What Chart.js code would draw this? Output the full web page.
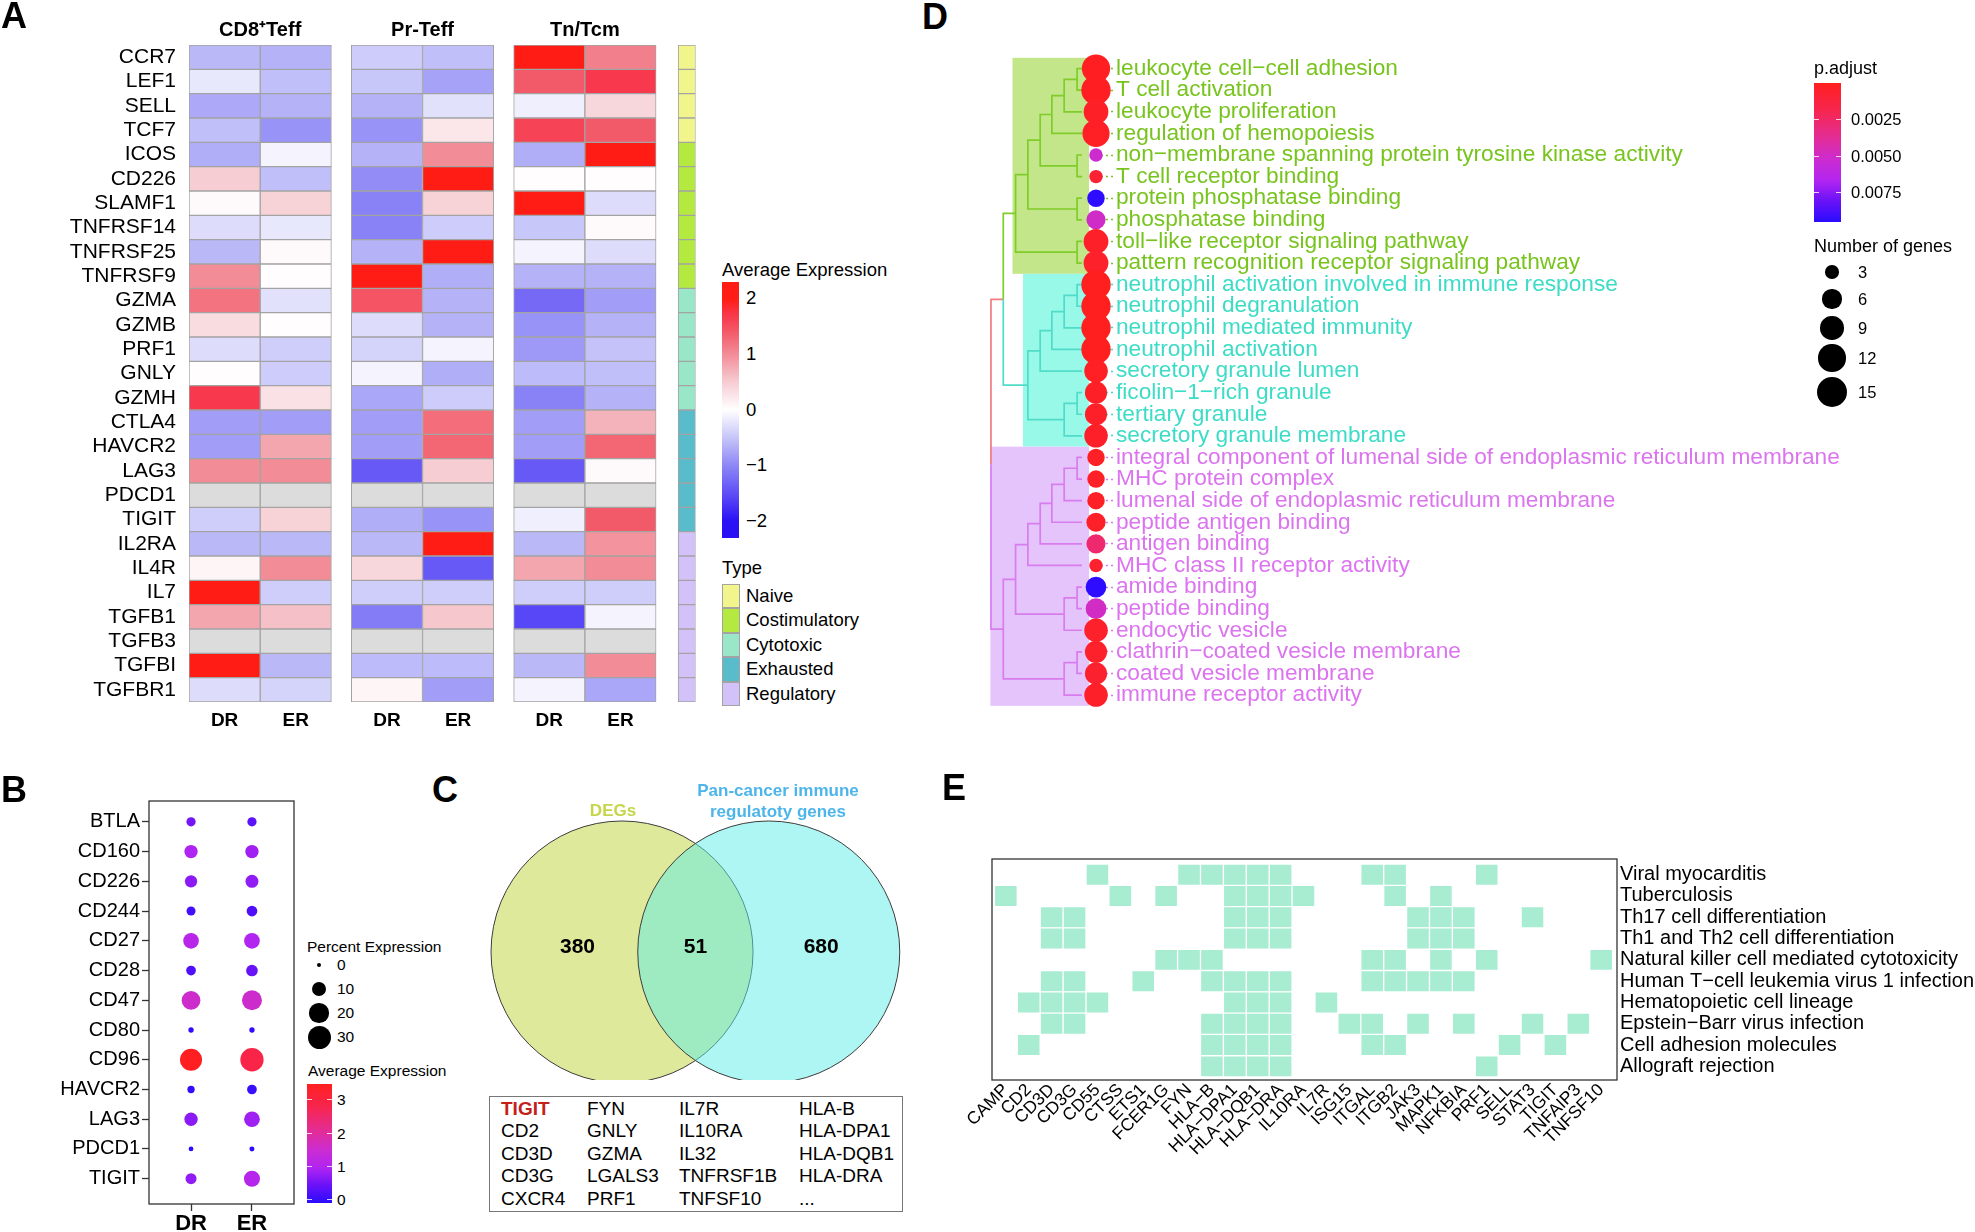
<!DOCTYPE html>
<html>
<head>
<meta charset="utf-8">
<script src="https://cdn.jsdelivr.net/npm/chart.js@4.4.1/dist/chart.umd.min.js"></script>
<style>
  body { margin: 0; background: #fff; width: 1975px; height: 1232px; overflow: hidden; position: relative;
         font-family: "Liberation Sans", Arial, Helvetica, sans-serif; color: #000; }
  canvas, .t, .box { position: absolute; }
  .t { white-space: nowrap; line-height: 1; }
  .box { box-sizing: border-box; }
</style>
</head>
<body>
<canvas id="heat" width="710" height="745" style="left:0px;top:0px"></canvas>
<canvas id="dots" width="300" height="470" style="left:0px;top:770px"></canvas>
<canvas id="venn" width="430" height="300" style="left:480px;top:780px"></canvas>
<canvas id="tree" width="960" height="674" style="left:985px;top:47.4px"></canvas>
<canvas id="kegg" width="1015" height="392" style="left:960px;top:840px"></canvas>
<script>
// ---------------- panel A : heatmap ----------------
const heatGenes = ['CCR7','LEF1','SELL','TCF7','ICOS','CD226','SLAMF1','TNFRSF14','TNFRSF25','TNFRSF9',
  'GZMA','GZMB','PRF1','GNLY','GZMH','CTLA4','HAVCR2','LAG3','PDCD1','TIGIT',
  'IL2RA','IL4R','IL7','TGFB1','TGFB3','TGFBI','TGFBR1'];
const heatTypes = ['Naive','Naive','Naive','Naive',
  'Costimulatory','Costimulatory','Costimulatory','Costimulatory','Costimulatory','Costimulatory',
  'Cytotoxic','Cytotoxic','Cytotoxic','Cytotoxic','Cytotoxic',
  'Exhausted','Exhausted','Exhausted','Exhausted','Exhausted',
  'Regulatory','Regulatory','Regulatory','Regulatory','Regulatory','Regulatory','Regulatory'];
const groups = ['CD8⁺Teff', 'Pr-Teff', 'Tn/Tcm'];
const samples = ['DR', 'ER'];
// null = not measured (grey)
const cd8DR = [-0.6,-0.2,-0.72,-0.55,-0.68,0.5,0.05,-0.3,-0.6,1.0,1.2,0.35,-0.3,0.02,1.7,-0.82,-0.82,1.0,null,-0.42,-0.6,0.1,2.1,0.8,null,2.1,-0.3];
const cd8ER = [-0.65,-0.55,-0.65,-0.9,-0.1,-0.55,0.45,-0.2,0.05,0.02,-0.26,0.02,-0.42,-0.44,0.3,-0.82,0.8,1.0,null,0.45,-0.6,1.0,-0.42,0.6,null,-0.6,-0.38];
const prDR  = [-0.44,-0.48,-0.65,-0.9,-0.65,-0.95,-1.04,-1.04,-0.65,2.1,1.45,-0.3,-0.38,-0.1,-0.75,-0.82,-0.82,-1.4,null,-0.68,-0.6,0.4,-0.42,-1.1,null,-0.58,0.1];
const prER  = [-0.55,-0.78,-0.26,0.25,1.0,2.1,0.45,-0.44,2.1,-0.68,-0.65,-0.65,-0.1,-0.68,-0.44,1.25,1.3,0.5,null,-0.9,2.1,-1.4,-0.42,0.55,null,-0.58,-0.82];
const tnDR  = [2.0,1.4,-0.14,1.6,-0.68,0.02,2.0,-0.48,-0.1,-0.65,-1.26,-0.9,-0.85,-0.58,-1.04,-0.82,-0.82,-1.4,null,-0.14,-0.6,0.8,-0.42,-1.56,null,-0.6,-0.1];
const tnER  = [1.1,1.7,0.4,1.4,2.0,0.02,-0.3,0.05,-0.3,-0.65,-0.82,-0.65,-0.52,-0.55,-0.65,0.7,1.3,0.05,null,1.4,0.95,1.0,-0.42,-0.1,null,1.0,-0.75];
const heatValues = [[cd8DR, cd8ER], [prDR, prER], [tnDR, tnER]];
const heatTicks = [2, 1, 0, -1, -2];
const typeNames = ['Naive','Costimulatory','Cytotoxic','Exhausted','Regulatory'];

// ---------------- panel B : dot plot ----------------
const dotGenes = ['BTLA','CD160','CD226','CD244','CD27','CD28','CD47','CD80','CD96','HAVCR2','LAG3','PDCD1','TIGIT'];
const pctDR = [2.3,7.2,5.7,2.1,11.4,2.7,18,0.15,27,0.9,7.2,0.05,4.1];
const pctER = [2.3,7.2,6.7,3.7,11.4,4.9,21.3,0.15,31,2.7,11.4,0.08,12];
const avgDR = [0.6,1.0,0.75,0.2,1.15,0.3,1.6,0.05,3.45,0.08,0.75,0.02,0.8];
const avgER = [0.4,0.9,0.8,0.3,1.05,0.5,1.6,0.05,2.9,0.12,0.9,0.02,1.1];
const pctTicks = [0, 10, 20, 30];
const avgTicks = [3, 2, 1, 0];

// ---------------- panel C : venn ----------------
const vennSets = ['DEGs', 'Pan-cancer immune regulatoty genes'];
const vennCounts = [380, 51, 680];   // DEGs only, shared, pan-cancer only
const sharedGenes = [
  ['TIGIT','FYN','IL7R','HLA-B'],
  ['CD2','GNLY','IL10RA','HLA-DPA1'],
  ['CD3D','GZMA','IL32','HLA-DQB1'],
  ['CD3G','LGALS3','TNFRSF1B','HLA-DRA'],
  ['CXCR4','PRF1','TNFSF10','...']];

// ---------------- panel D : GO tree ----------------
const goTerms = ['leukocyte cell−cell adhesion','T cell activation','leukocyte proliferation','regulation of hemopoiesis',
  'non−membrane spanning protein tyrosine kinase activity','T cell receptor binding','protein phosphatase binding',
  'phosphatase binding','toll−like receptor signaling pathway','pattern recognition receptor signaling pathway',
  'neutrophil activation involved in immune response','neutrophil degranulation','neutrophil mediated immunity',
  'neutrophil activation','secretory granule lumen','ficolin−1−rich granule','tertiary granule','secretory granule membrane',
  'integral component of lumenal side of endoplasmic reticulum membrane','MHC protein complex',
  'lumenal side of endoplasmic reticulum membrane','peptide antigen binding','antigen binding',
  'MHC class II receptor activity','amide binding','peptide binding','endocytic vesicle',
  'clathrin−coated vesicle membrane','coated vesicle membrane','immune receptor activity'];
const termCounts = [13,14,10,12,3,3,5,6,10,10,14,14,14,14,9,8,8,9,5,5,5,6,6,3,7,7,9,8,8,9];
const termPadj = [0.0001,0.0001,0.0003,0.0002,0.0052,0.0008,0.0094,0.0050,0.0004,0.0005,
  0.00001,0.00001,0.00001,0.00001,0.0002,0.0003,0.0004,0.0004,
  0.0003,0.0003,0.0003,0.0004,0.0027,0.0006,0.0094,0.0049,0.0005,0.0005,0.0006,0.0004];
const termCluster = [0,0,0,0,0,0,0,0,0,0, 1,1,1,1,1,1,1,1, 2,2,2,2,2,2,2,2,2,2,2,2];
// hclust style merges: negative = leaf (1-based), positive = earlier merge (1-based), then height
const treeMerges = [
  [-1,-2,0.4],[1,-3,1.45],[2,-4,2.45],[-5,-6,0.4],[3,4,3.4],[-7,-8,0.4],[5,6,4.4],[-9,-10,0.4],[7,8,5.4],
  [-11,-12,0.4],[10,-13,1.45],[11,-14,2.45],[12,-15,3.4],[-16,-17,0.4],[14,-18,1.45],[13,15,4.4],[9,16,6.4],
  [-19,-20,0.4],[18,-21,1.45],[19,-22,2.45],[20,-23,3.4],[21,-24,4.4],[-25,-26,0.4],[23,-27,1.45],[22,24,5.4],
  [-28,-29,0.4],[26,-30,1.45],[25,27,6.4],[17,28,7.4]];
const padjTicks = [0.0025, 0.0050, 0.0075];
const countTicks = [3, 6, 9, 12, 15];

// ---------------- panel E : KEGG gene map ----------------
const keggGenes = ['CAMP','CD2','CD3D','CD3G','CD55','CTSS','ETS1','FCER1G','FYN','HLA−B','HLA−DPA1','HLA−DQB1',
  'HLA−DRA','IL10RA','IL7R','ISG15','ITGAL','ITGB2','JAK3','MAPK1','NFKBIA','PRF1','SELL','STAT3','TIGIT','TNFAIP3','TNFSF10'];
const keggPaths = ['Viral myocarditis','Tuberculosis','Th17 cell differentiation','Th1 and Th2 cell differentiation',
  'Natural killer cell mediated cytotoxicity','Human T−cell leukemia virus 1 infection','Hematopoietic cell lineage',
  'Epstein−Barr virus infection','Cell adhesion molecules','Allograft rejection'];
const keggHits = [
  ['CD55','FYN','HLA−B','HLA−DPA1','HLA−DQB1','HLA−DRA','ITGAL','ITGB2','PRF1'],
  ['CAMP','CTSS','FCER1G','HLA−DPA1','HLA−DQB1','HLA−DRA','IL10RA','ITGB2','MAPK1'],
  ['CD3D','CD3G','HLA−DPA1','HLA−DQB1','HLA−DRA','JAK3','MAPK1','NFKBIA','STAT3'],
  ['CD3D','CD3G','HLA−DPA1','HLA−DQB1','HLA−DRA','JAK3','MAPK1','NFKBIA'],
  ['FCER1G','FYN','HLA−B','ITGAL','ITGB2','MAPK1','PRF1','TNFSF10'],
  ['CD3D','CD3G','ETS1','HLA−B','HLA−DPA1','HLA−DQB1','HLA−DRA','ITGAL','ITGB2','JAK3','MAPK1','NFKBIA'],
  ['CD2','CD3D','CD3G','CD55','HLA−DPA1','HLA−DQB1','HLA−DRA','IL7R'],
  ['CD3D','CD3G','HLA−B','HLA−DPA1','HLA−DQB1','HLA−DRA','ISG15','ITGAL','JAK3','NFKBIA','STAT3','TNFAIP3'],
  ['CD2','HLA−B','HLA−DPA1','HLA−DQB1','HLA−DRA','ITGAL','ITGB2','SELL','TIGIT'],
  ['HLA−B','HLA−DPA1','HLA−DQB1','HLA−DRA','PRF1']];

// ---------------- styles ----------------
const FONT = '"Liberation Sans", Arial, Helvetica, sans-serif';
const typeColors = ['#f2f58c', '#b4ea40', '#9ae6c8', '#58bccb', '#d3c2fa'];
const NA_COLOR = '#dcdcdc';
const CELL_BORDER = '#a3a3a3';
const heatNeg = [[0,'#ffffff'],[0.25,'#c6c5f9'],[0.5,'#8d86f6'],[0.75,'#5e4ef6'],[1,'#2a10f5']];
const heatPos = [[0,'#ffffff'],[0.25,'#f6cdd3'],[0.5,'#f28c97'],[0.7,'#f35a69'],[0.85,'#f8384c'],[1,'#ff1c14']];
const rampStops = [[0,'#2a0cff'],[0.15,'#6a12f8'],[0.29,'#b024f2'],[0.45,'#cc2cd0'],[0.6,'#e22c98'],[0.8,'#f62650'],[1,'#ff1f1f']];
const clusterText = ['#78c41e', '#3cdcc6', '#dc74ef'];
const clusterLine = ['#80cc2a', '#50dcc8', '#d87cf0', '#f47c7c'];
const clusterFill = ['#c4e68a', '#98f9e9', '#e4c4fb'];
const hilightPad = [0.25, 0.4, 1.05];

Chart.defaults.font.family = FONT;
Chart.defaults.color = '#000';
Chart.defaults.animation = false;
Chart.defaults.events = [];
Chart.defaults.plugins.legend.display = false;
Chart.defaults.plugins.tooltip.enabled = false;

// colour helpers
const hex2rgb = h => { const n = parseInt(h.slice(1), 16); return [n >> 16 & 255, n >> 8 & 255, n & 255]; };
function stopColor(stops, t) {
  t = Math.max(0, Math.min(1, t));
  for (let i = 1; i < stops.length; i++) {
    const [t1, c1] = stops[i - 1], [t2, c2] = stops[i];
    if (t <= t2) {
      const k = (t - t1) / (t2 - t1), a = hex2rgb(c1), b = hex2rgb(c2);
      return `rgb(${a.map((v, j) => Math.round(v + (b[j] - v) * k)).join(',')})`;
    }
  }
  return stops[stops.length - 1][1];
}
function heatColor(v) {
  if (v === null || v === undefined) return NA_COLOR;
  return v < 0 ? stopColor(heatNeg, -v / 2) : stopColor(heatPos, v / 2);
}
const ramp = t => stopColor(rampStops, t);

// fixed axis sizes, so panels line up with the figure
const fixW = w => s => { s.width = w; s.paddingTop = 0; s.paddingBottom = 0; };
const fixH = h => s => { s.height = h; s.paddingLeft = 0; s.paddingRight = 0; };
const noGrid = { display: false, drawTicks: false };
const noBorder = { display: false };
const framePlugin = {
  id: 'frame',
  afterDraw(chart) {
    const { left, top, right, bottom } = chart.chartArea, ctx = chart.ctx;
    ctx.save(); ctx.strokeStyle = '#333'; ctx.lineWidth = 1.3;
    ctx.strokeRect(left, top, right - left, bottom - top); ctx.restore();
  }
};

// html text helper
function txt(s, x, cy, size, o = {}) {
  const d = document.createElement('div');
  d.className = 't';
  d.textContent = s;
  d.style.fontSize = size + 'px';
  d.style.left = x + 'px';
  d.style.top = (cy - size * 0.5) + 'px';
  if (o.center) d.style.transform = 'translateX(-50%)';
  if (o.bold) d.style.fontWeight = 'bold';
  if (o.color) d.style.color = o.color;
  document.body.appendChild(d);
  return d;
}
function box(x, y, w, h, css) {
  const d = document.createElement('div');
  d.className = 'box';
  Object.assign(d.style, { left: x + 'px', top: y + 'px', width: w + 'px', height: h + 'px' }, css);
  document.body.appendChild(d);
  return d;
}

// ---------- A ----------
const GAP = 0.28, TYPE_GAP = 0.31, TYPE_W = 0.245;
const colStart = (g, s) => g * (2 + GAP) + s;
const typeStart = groups.length * 2 + (groups.length - 1) * GAP + TYPE_GAP;
const colCenters = [], colLabels = [];
groups.forEach((g, gi) => samples.forEach((s, si) => { colCenters.push(colStart(gi, si) + 0.5); colLabels.push(s); }));
const cells = [];
heatValues.forEach((grp, g) => grp.forEach((vals, s) => vals.forEach((v, i) =>
  cells.push({ y: heatGenes[i], x: [colStart(g, s), colStart(g, s) + 1], v }))));
const typeCells = heatGenes.map((gene, i) => ({ y: gene, x: [typeStart, typeStart + TYPE_W], t: heatTypes[i] }));
const barStyle = { borderColor: CELL_BORDER, borderWidth: 1, borderSkipped: false, grouped: false, barPercentage: 1, categoryPercentage: 1 };

new Chart(document.getElementById('heat'), {
  type: 'bar',
  data: { labels: heatGenes, datasets: [
    Object.assign({ data: cells, backgroundColor: c => heatColor(c.raw.v) }, barStyle),
    Object.assign({ data: typeCells, backgroundColor: c => typeColors[typeNames.indexOf(c.raw.t)] }, barStyle)
  ]},
  options: {
    indexAxis: 'y', responsive: false,
    layout: { padding: { right: 14.4 }, autoPadding: false },
    scales: {
      y: { type: 'category', grid: noGrid, border: noBorder, afterFit: fixW(189),
           ticks: { font: { size: 21, lineHeight: 1 }, padding: 13, autoSkip: false } },
      x: { type: 'linear', position: 'bottom', min: 0, max: typeStart + TYPE_W, grid: noGrid, border: noBorder,
           afterBuildTicks: ax => { ax.ticks = colCenters.map(v => ({ value: v })); }, afterFit: fixH(43),
           ticks: { callback: (v, i) => colLabels[i], font: { size: 19, weight: 'bold', lineHeight: 1 }, padding: 9, autoSkip: false, maxRotation: 0 } },
      x2: { type: 'linear', position: 'top', min: 0, max: typeStart + TYPE_W, grid: noGrid, border: noBorder,
           afterBuildTicks: ax => { ax.ticks = groups.map((g, gi) => ({ value: colStart(gi, 0) + 1 })); }, afterFit: fixH(45),
           ticks: { callback: (v, i) => groups[i], font: { size: 20, weight: 'bold', lineHeight: 1 }, padding: 5, autoSkip: false, maxRotation: 0 } }
    }
  }
});

// A legends
txt('Average Expression', 722, 270, 18.5);
const A_BAR = { top: 282, h: 256, hi: 2.3, lo: -2.3 };
const aStops = [];
for (let k = 0; k <= 30; k++) { const v = A_BAR.lo + (A_BAR.hi - A_BAR.lo) * k / 30; aStops.push(`${heatColor(v)} ${(k / 30 * 100).toFixed(1)}%`); }
box(722, A_BAR.top, 17, A_BAR.h, { background: `linear-gradient(to top, ${aStops.join(',')})` });
heatTicks.forEach(v => txt(String(v).replace('-', '−'), 746, A_BAR.top + (A_BAR.hi - v) / (A_BAR.hi - A_BAR.lo) * A_BAR.h, 18.5));
txt('Type', 722, 568, 18.5);
typeNames.forEach((n, i) => {
  box(722, 584 + i * 24.4, 18, 24.4, { background: typeColors[i], border: '1px solid ' + CELL_BORDER });
  txt(n, 746, 584 + 12.2 + i * 24.4, 18.5);
});

// ---------- B ----------
const AVG_MAX = 3.48;
const dotDiam = p => 4 + 19 * Math.sqrt(p / 30);
const pctB = [pctDR, pctER], avgB = [avgDR, avgER];
new Chart(document.getElementById('dots'), {
  type: 'scatter',
  data: { datasets: samples.map((s, j) => ({
    data: dotGenes.map((g, i) => ({ x: j + 1, y: i, pct: pctB[j][i], avg: avgB[j][i] })),
    pointRadius: c => dotDiam(c.raw.pct) / 2,
    pointBackgroundColor: c => ramp(c.raw.avg / AVG_MAX), pointBorderWidth: 0
  })) },
  options: {
    responsive: false,
    layout: { padding: { top: 31, right: 6 }, autoPadding: false },
    scales: {
      x: { type: 'linear', min: 0.31, max: 2.69, border: noBorder, afterFit: fixH(36),
           grid: { drawOnChartArea: false, drawTicks: true, tickLength: 7, tickColor: '#333', tickWidth: 1.3 },
           afterBuildTicks: ax => { ax.ticks = samples.map((s, j) => ({ value: j + 1 })); },
           ticks: { callback: (v, i) => samples[i], font: { size: 22, weight: 'bold', lineHeight: 1 }, padding: 2, maxRotation: 0 } },
      y: { type: 'linear', reverse: true, min: -0.7, max: 12.85, border: noBorder, afterFit: fixW(149),
           grid: { drawOnChartArea: false, drawTicks: true, tickLength: 7, tickColor: '#333', tickWidth: 1.3 },
           afterBuildTicks: ax => { ax.ticks = dotGenes.map((g, i) => ({ value: i })); },
           ticks: { callback: (v, i) => dotGenes[i], font: { size: 20, lineHeight: 1 }, padding: 2, autoSkip: false } }
    }
  },
  plugins: [framePlugin]
});
txt('Percent Expression', 307, 947, 15.5);
const pctKeyY = [965, 989, 1013, 1037];
pctTicks.forEach((p, i) => {
  const d = dotDiam(p);
  box(319 - d / 2, pctKeyY[i] - d / 2, d, d, { background: '#000', borderRadius: '50%' });
  txt(String(p), 337, pctKeyY[i], 15.5);
});
txt('Average Expression', 308, 1071, 15.5);
const B_BAR = { top: 1084, h: 119, pxPerUnit: 33.3 };
const bStops = [];
for (let k = 0; k <= 20; k++) bStops.push(`${ramp(k / 20)} ${k * 5}%`);
box(307, B_BAR.top, 25, B_BAR.h, { background: `linear-gradient(to top, ${bStops.join(',')})` });
avgTicks.forEach(v => {
  const y = B_BAR.top + (AVG_MAX - v) * B_BAR.pxPerUnit;
  box(307, y - 0.5, 5, 1, { background: 'rgba(255,255,255,0.8)' });
  box(327, y - 0.5, 5, 1, { background: 'rgba(255,255,255,0.8)' });
  txt(String(v), 337, y, 15.5);
});

// ---------- C ----------
const SEP = 1.12;
const vennCountX = [-0.34, SEP / 2, SEP + 0.40];
const vennPlugin = {
  id: 'vennCounts',
  afterDatasetsDraw(chart) {
    const { x, y } = chart.scales, ctx = chart.ctx;
    ctx.save(); ctx.font = 'bold 21px ' + FONT; ctx.fillStyle = '#000';
    ctx.textAlign = 'center'; ctx.textBaseline = 'middle';
    vennCounts.forEach((n, i) => ctx.fillText(String(n), x.getPixelForValue(vennCountX[i]), y.getPixelForValue(0.035)));
    ctx.restore();
  }
};
new Chart(document.getElementById('venn'), {
  type: 'scatter',
  data: { datasets: vennSets.map((s, i) => ({
    data: [{ x: i * SEP, y: 0 }],
    pointRadius: c => c.chart.scales.x.getPixelForValue(1) - c.chart.scales.x.getPixelForValue(0),
    pointBackgroundColor: ['rgba(191,211,57,0.5)', 'rgba(93,237,233,0.5)'][i],
    pointBorderColor: '#3c3c3c', pointBorderWidth: 1, order: -i
  })) },
  options: {
    responsive: false,
    layout: { autoPadding: false },
    scales: { x: { type: 'linear', display: false, min: -1.084, max: 2.198 },
              y: { type: 'linear', display: false, min: -0.977, max: 1.313 } }
  },
  plugins: [vennPlugin]
});
txt(vennSets[0], 613, 810, 17, { center: true, bold: true, color: '#c5d64a' });
txt('Pan-cancer immune', 778, 790, 17, { center: true, bold: true, color: '#4db5ea' });
txt('regulatoty genes', 778, 811, 17, { center: true, bold: true, color: '#4db5ea' });
box(489, 1096, 414, 116, { border: '1.5px solid #777' });
const tableColX = [501, 587, 679, 799];
sharedGenes.forEach((row, r) => row.forEach((g, c) => {
  const red = g === 'TIGIT';
  txt(g, tableColX[c], 1108 + r * 22.6, 19, red ? { bold: true, color: '#c4201a' } : {});
}));

// ---------- D ----------
const P_MAX = 0.0095;
const PX_PER_H = 12.3, DOT_X = 14 / PX_PER_H, X_MIN = DOT_X - 111 / PX_PER_H, HILIGHT_RIGHT = 0.57;
const geneRadius = n => Math.sqrt(62 * n - 5) / 2;
const treeNodes = [];
const nodeOf = id => id < 0 ? { h: 0, y: -id - 1, leaves: [-id - 1] } : treeNodes[id - 1];
treeMerges.forEach(([a, b, h]) => {
  const A = nodeOf(a), B = nodeOf(b);
  treeNodes.push({ h, y: (A.y + B.y) / 2, leaves: A.leaves.concat(B.leaves), kids: [A, B] });
});
const clusterOfNode = n => { const s = new Set(n.leaves.map(i => termCluster[i])); return s.size === 1 ? [...s][0] : 3; };
const edgeSets = [[], [], [], []];
treeNodes.forEach(P => P.kids.forEach(C => {
  edgeSets[clusterOfNode(C)].push({ x: -P.h, y: P.y }, { x: -P.h, y: C.y }, { x: -C.h, y: C.y }, { x: NaN, y: NaN });
}));
const clusterRoots = clusterFill.map((c, k) => {
  const size = termCluster.filter(v => v === k).length;
  return treeNodes.find(n => n.leaves.length === size && clusterOfNode(n) === k);
});
const hilightPlugin = {
  id: 'hilight',
  beforeDatasetsDraw(chart) {
    const { x, y } = chart.scales, ctx = chart.ctx;
    ctx.save();
    clusterRoots.forEach((root, k) => {
      const lo = Math.min(...root.leaves), hi = Math.max(...root.leaves);
      const x0 = x.getPixelForValue(-(root.h + hilightPad[k])), x1 = x.getPixelForValue(HILIGHT_RIGHT);
      const y0 = y.getPixelForValue(lo - 0.5), y1 = y.getPixelForValue(hi + 0.5);
      ctx.fillStyle = clusterFill[k];
      ctx.fillRect(x0, y0, x1 - x0, y1 - y0);
    });
    ctx.restore();
  }
};
const leafColor = c => clusterText[termCluster[c.index]];
new Chart(document.getElementById('tree'), {
  type: 'scatter',
  data: { datasets: [
    { data: goTerms.map((t, i) => ({ x: DOT_X, y: i, n: termCounts[i], p: termPadj[i] })),
      pointRadius: c => geneRadius(c.raw.n), pointBackgroundColor: c => ramp(1 - c.raw.p / P_MAX),
      pointBorderWidth: 0, clip: false, order: 0 },
    ...edgeSets.map((pts, k) => ({ data: pts, showLine: true, pointRadius: 0, borderColor: clusterLine[k],
      borderWidth: 1.7, clip: false, order: 1 }))
  ] },
  options: {
    responsive: false,
    layout: { autoPadding: false },
    scales: {
      x: { type: 'linear', display: false, min: X_MIN, max: DOT_X },
      y: { type: 'linear', position: 'right', reverse: true, min: -1, max: 30.2, border: noBorder,
           afterFit: fixW(960 - 111),
           afterBuildTicks: ax => { ax.ticks = goTerms.map((t, i) => ({ value: i })); },
           grid: { drawOnChartArea: false, drawTicks: true, tickLength: 17, tickColor: leafColor, tickWidth: 1.6, tickBorderDash: [2, 3] },
           ticks: { callback: (v, i) => goTerms[i], color: leafColor, font: { size: 22.7, lineHeight: 1 }, padding: 3, autoSkip: false } }
    }
  },
  plugins: [hilightPlugin]
});
const DL = 1814;
txt('p.adjust', DL, 68, 18);
const D_BAR = { top: 83, h: 139 };
const dStops = [];
for (let k = 0; k <= 20; k++) dStops.push(`${ramp(1 - k / 20)} ${k * 5}%`);
box(DL, D_BAR.top, 27, D_BAR.h, { background: `linear-gradient(to bottom, ${dStops.join(',')})` });
padjTicks.forEach(p => {
  const y = D_BAR.top + p / P_MAX * D_BAR.h;
  box(DL, y - 0.5, 5, 1, { background: 'rgba(255,255,255,0.8)' });
  box(DL + 22, y - 0.5, 5, 1, { background: 'rgba(255,255,255,0.8)' });
  txt(p.toFixed(4), DL + 37, y, 16.5);
});
txt('Number of genes', DL, 246, 18);
const countKeyY = [272, 299, 328, 358, 392];
countTicks.forEach((n, i) => {
  const d = geneRadius(n) * 2;
  box(DL + 18 - d / 2, countKeyY[i] - d / 2, d, d, { background: '#000', borderRadius: '50%' });
  txt(String(n), DL + 44, countKeyY[i], 16.5);
});

// ---------- E ----------
const keggCells = [];
keggHits.forEach((genes, r) => genes.forEach(g => {
  const c = keggGenes.indexOf(g);
  keggCells.push({ y: r, x: [c, c + 1] });
}));
new Chart(document.getElementById('kegg'), {
  type: 'bar',
  data: { datasets: [{ data: keggCells, backgroundColor: '#a8ecd2', borderColor: '#ffffff', borderWidth: 1,
    borderSkipped: false, grouped: false, barPercentage: 1, categoryPercentage: 1 }] },
  options: {
    indexAxis: 'y', responsive: false,
    layout: { padding: { left: 32, top: 19 }, autoPadding: false },
    scales: {
      x: { type: 'linear', min: -0.105, max: 27.19, grid: noGrid, border: noBorder, afterFit: fixH(152),
           afterBuildTicks: ax => { ax.ticks = keggGenes.map((g, i) => ({ value: i + 0.5 })); },
           ticks: { callback: (v, i) => keggGenes[i], font: { size: 17.5, lineHeight: 1 }, padding: 1,
                    autoSkip: false, minRotation: 45, maxRotation: 45 } },
      y: { type: 'linear', position: 'right', reverse: true, offset: false, min: -0.735, max: 9.64,
           grid: { display: false, drawTicks: false, offset: false }, border: noBorder,
           afterFit: fixW(358),
           afterBuildTicks: ax => { ax.ticks = keggPaths.map((p, i) => ({ value: i })); },
           ticks: { callback: (v, i) => keggPaths[i], font: { size: 20, lineHeight: 1 }, padding: 3, autoSkip: false } }
    }
  },
  plugins: [framePlugin]
});

// panel letters
txt('A', 1, 16, 36, { bold: true });
txt('D', 922, 17, 36, { bold: true });
txt('B', 1, 790, 36, { bold: true });
txt('C', 432, 790, 36, { bold: true });
txt('E', 942, 788, 36, { bold: true });
</script>
</body>
</html>
